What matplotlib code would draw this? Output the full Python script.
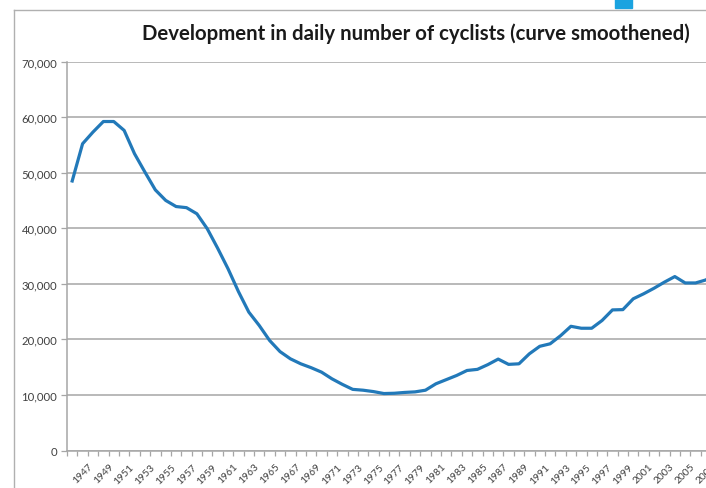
import matplotlib.pyplot as plt
from matplotlib.ticker import FuncFormatter, FixedLocator
from matplotlib.lines import Line2D
from matplotlib.patches import Rectangle

# years on the category axis (image is cut off at the right)
years = list(range(1946, 2009))

# daily number of cyclists
cyclists = [
    48500, 55200, 57300, 59200, 59200, 57600, 53400, 50100, 46900, 45000,
    43900, 43700, 42600, 39900, 36400, 32700, 28600, 24900, 22500, 19800,
    17800, 16500, 15600, 14900, 14100, 12900, 11900, 11000, 10850, 10600,
    10250, 10300, 10450, 10550, 10850, 12000, 12750, 13500, 14400, 14600,
    15450, 16450, 15500, 15600, 17400, 18750, 19200, 20650, 22350, 22000,
    22000, 23400, 25300, 25350, 27300, 28200, 29200, 30300, 31300, 30150,
    30150, 30700, 32000,
]

y_ticks = [0, 10000, 20000, 30000, 40000, 50000, 60000, 70000]
title = "Development in daily number of cyclists (curve smoothened)"

plt.rcParams['font.family'] = ['Lato', 'DejaVu Sans']

fig = plt.figure(figsize=(7.06, 4.89), dpi=100)

W, H = 706, 489
left_px, right_px = 67, 67 + len(years) * 10.39
bottom_px, top_px = 451.5, 62.5
ax = fig.add_axes([left_px / W, (H - bottom_px) / H,
                   (right_px - left_px) / W, (bottom_px - top_px) / H])

x = list(range(len(years)))
ax.plot(x, cyclists, color='#2279b9', linewidth=2.3, solid_joinstyle='round')

ax.set_xlim(-0.5, len(years) - 0.5)
ax.set_ylim(0, 70000)
ax.set_yticks(y_ticks)
ax.yaxis.set_major_formatter(FuncFormatter(lambda v, p: f"{int(v):,}"))
ax.grid(axis='y', color='#a6a6a6', linewidth=1.1)
ax.set_axisbelow(True)

# labels every other year, tick marks between categories
lab_idx = [i for i, y in enumerate(years) if y % 2 == 1]
ax.xaxis.set_major_locator(FixedLocator(lab_idx))
ax.set_xticklabels([str(years[i]) for i in lab_idx], rotation=45,
                   ha='center', va='top')
ax.xaxis.set_minor_locator(FixedLocator([i - 0.5 for i in range(len(years) + 1)]))
ax.tick_params(axis='x', which='major', length=0, pad=8, labelsize=7.4, labelcolor='#404040')
ax.tick_params(axis='x', which='minor', length=3.5, width=0.9, color='#a6a6a6')
ax.tick_params(axis='y', length=4, width=0.9, color='#a6a6a6', pad=3,
               labelsize=8.2, labelcolor='#404040')

for s in ['top', 'right']:
    ax.spines[s].set_visible(False)
for s in ['left', 'bottom']:
    ax.spines[s].set_color('#a6a6a6')
    ax.spines[s].set_linewidth(1.1)

fig.text(416 / W, 1 - 34 / H, title, ha='center', va='center',
         fontsize=14.7, fontweight='bold', color='#1a1a1a')

# chart frame and the small blue mark at the top
fig.add_artist(Line2D([14 / W, 14 / W], [0, 1 - 11 / H], color='#b0b0b0', linewidth=1))
fig.add_artist(Line2D([14 / W, 1], [1 - 11 / H, 1 - 11 / H], color='#b0b0b0', linewidth=1))
fig.add_artist(Rectangle((615 / W, 1 - 9 / H), 17 / W, 9 / H, color='#1aa3e0'))

plt.savefig('out.png', dpi=100)
plt.close()
